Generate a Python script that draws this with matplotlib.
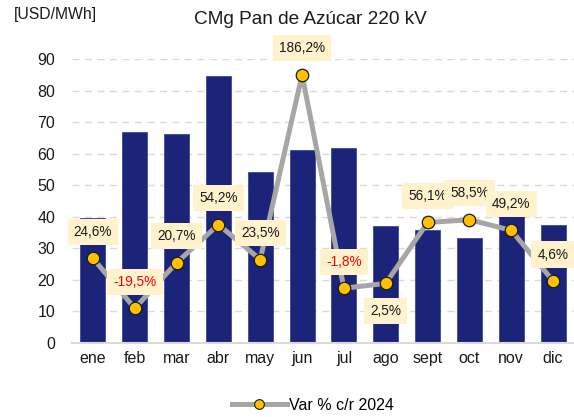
import matplotlib
matplotlib.use("Agg")
import matplotlib.pyplot as plt
from matplotlib.lines import Line2D

plt.rcParams['font.family'] = ['Liberation Sans', 'DejaVu Sans']

months = ['ene', 'feb', 'mar', 'abr', 'may', 'jun', 'jul', 'ago', 'sept', 'oct', 'nov', 'dic']
cmg = [39.5, 67.0, 66.2, 84.5, 54.3, 61.2, 61.7, 37.1, 35.8, 33.2, 40.8, 37.4]
var_pct = [24.6, -19.5, 20.7, 54.2, 23.5, 186.2, -1.8, 2.5, 56.1, 58.5, 49.2, 4.6]
yticks = [0, 10, 20, 30, 40, 50, 60, 70, 80, 90]
label_below = [False, False, False, False, False, False, False, True, False, False, False, False]

fig = plt.figure(figsize=(5.74, 4.17), dpi=100)
ax = fig.add_axes([72/574, 1-343/417, 1-72/574, (343-59)/417])

x = list(range(len(months)))
ax.bar(x, cmg, width=0.6, color='#1B2479', edgecolor='#3A4A9A', linewidth=0.6, zorder=2)
ax.set_ylim(0, 90)
ax.set_xlim(-0.5, len(months) - 0.5)
ax.set_yticks(yticks)
ax.set_xticks(x)
ax.set_xticklabels(months)
ax.tick_params(axis='both', length=0, labelsize=11.5, colors='#1a1a1a')
ax.tick_params(axis='y', pad=12)
ax.tick_params(axis='x', pad=6)
for s in ['top', 'right', 'left']:
    ax.spines[s].set_visible(False)
ax.spines['bottom'].set_color('#D9D9D9')
ax.spines['bottom'].set_linewidth(1.5)
ax.yaxis.grid(True, linestyle=(0, (5, 4)), color='#D9D9D9', linewidth=1.0, zorder=0)
ax.set_axisbelow(True)

ax2 = ax.twinx()
ax2.set_ylim(-50, 200)
ax2.set_axis_off()
ax2.plot(x, var_pct, color='#A6A6A6', linewidth=3.6, marker='o', markersize=9,
         markerfacecolor='#FFC000', markeredgecolor='#1a1a1a', markeredgewidth=0.9,
         zorder=3)

for i, v in enumerate(var_pct):
    txt = f"{v:.1f}".replace('.', ',') + '%'
    col = '#FF0000' if v < 0 else '#1a1a1a'
    off = -20 if label_below[i] else 19
    ax2.annotate(txt, (i, v), xytext=(0, off), textcoords='offset points',
                 ha='center', va='center', fontsize=9.8, color=col, zorder=5 + i,
                 bbox=dict(boxstyle='square,pad=0.45', facecolor='#FFF2CC', edgecolor='none'))

fig.text(310/574, 1-20/417, 'CMg Pan de Azúcar 220 kV', ha='center', va='center', fontsize=13.7, color='#1a1a1a')
fig.text(14/574, 1-15/417, '[USD/MWh]', ha='left', va='center', fontsize=11.3, color='#1a1a1a')

handle = Line2D([], [], color='#A6A6A6', linewidth=3.6, marker='o', markersize=7,
                markerfacecolor='#FFC000', markeredgecolor='#1a1a1a', markeredgewidth=0.8)
fig.legend(handles=[handle], labels=['Var % c/r 2024'], loc='center',
           bbox_to_anchor=(313/574, 1-405/417), frameon=False,
           fontsize=11.5, handlelength=3.4, handletextpad=0.15, borderpad=0)

fig.savefig('out.png', dpi=100)
